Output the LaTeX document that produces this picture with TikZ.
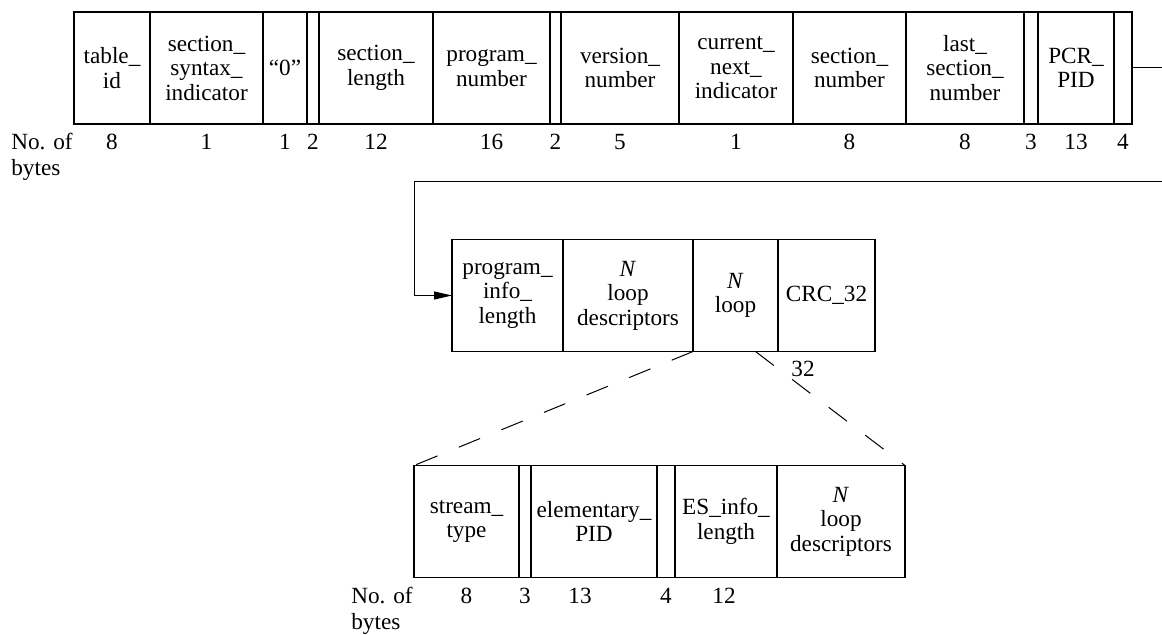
\documentclass[tikz,border=0pt]{standalone}
\usepackage{fontspec}
\setmainfont{Liberation Serif}
\usetikzlibrary{positioning,arrows.meta}
\newcommand\fieldfont{\fontsize{11.6}{12.25}\selectfont}
\begin{document}
\begin{tikzpicture}[x=0.5pt,y=-0.5pt,node distance=0pt,
    field/.style={draw,line width=0.7pt,minimum width=#1,minimum height=56pt,
        inner sep=0pt,outer sep=0pt,align=center,font=\fieldfont},
    bits/.style={inner sep=0pt,font=\fieldfont},
    unit/.style={inner sep=0pt,align=left,font=\fontsize{11.6}{13}\selectfont},
    conn/.style={line width=0.5pt,-{Triangle[length=9pt,width=4pt]}},
    dashline/.style={line width=0.5pt,dash pattern=on 11.5pt off 11.5pt}]
\useasboundingbox (0,0) rectangle (1162,635);
% PMT header
\node [field=38pt,anchor=west] (tid) at (74,68) {table\_\\id};
\node [field=56.5pt] (ssi) [right=of tid] {section\_\\syntax\_\\indicator};
\node [field=22pt] (zero) [right=of ssi] {“0”};
\node [field=6pt] (r1) [right=of zero] {};
\node [field=57pt] (slen) [right=of r1] {section\_\\length};
\node [field=58.5pt] (pnum) [right=of slen] {program\_\\number};
\node [field=5.5pt] (r2) [right=of pnum] {};
\node [field=59pt] (vnum) [right=of r2] {version\_\\number};
\node [field=57pt] (cni) [right=of vnum] {current\_\\next\_\\indicator};
\node [field=56.5pt] (snum) [right=of cni] {section\_\\number};
\node [field=59pt] (lsn) [right=of snum] {last\_\\section\_\\number};
\node [field=7pt] (r3) [right=of lsn] {};
\node [field=38pt] (pcr) [right=of r3] {PCR\_\\PID};
\node [field=9pt] (r4) [right=of pcr] {};
\foreach \f/\n in {tid/8,ssi/1,zero/1,r1/2,slen/12,pnum/16,r2/2,vnum/5,cni/1,snum/8,lsn/8,r3/3,pcr/13,r4/4}
    \node [bits,below=5pt of \f] {\n};
\node [unit,anchor=north east] (nob1) at ([xshift=-0.5pt,yshift=-4.5pt]tid.south west) {No. of\\bytes};
% program loop
\node [field=55.5pt,anchor=west] (pil) at (452,295.5) {program\_\\info\_\\length};
\node [field=65pt] (nld) [right=of pil] {\textit{N}\\loop\\descriptors};
\node [field=42.5pt] (nloop) [right=of nld] {\textit{N}\\loop};
\node [field=48.5pt] (crc) [right=of nloop] {CRC\_32};
\node [bits] (crclen) at (803,369) {32};
\coordinate (turn) at (414,182);
\draw[conn] (r4.east) -- ++(40,0) |- (turn) |- (pil.west);
% stream loop
\node [field=52.5pt,anchor=west] (stype) at (414,521.5) {stream\_\\type};
\node [field=6pt] (r5) [right=of stype] {};
\node [field=63pt] (epid) [right=of r5] {elementary\_\\PID};
\node [field=9pt] (r6) [right=of epid] {};
\node [field=51pt] (esil) [right=of r6] {ES\_info\_\\length};
\node [field=64pt] (bld) [right=of esil] {\textit{N}\\loop\\descriptors};
\foreach \f/\n/\dx in {stype/8/0,r5/3/0,epid/13/-7,r6/4/0,esil/12/-1}
    \node [bits,below=5pt of \f,xshift=\dx pt] {\n};
\node [unit,anchor=north east] (nob2) at ([xshift=-0.5pt,yshift=-4.5pt]stype.south west) {No. of\\bytes};
\draw[dashline] (nld.south east) -- (stype.north west);
\draw[dashline] ([xshift=10pt]nloop.south) -- (bld.north east);
\end{tikzpicture}
\end{document}
